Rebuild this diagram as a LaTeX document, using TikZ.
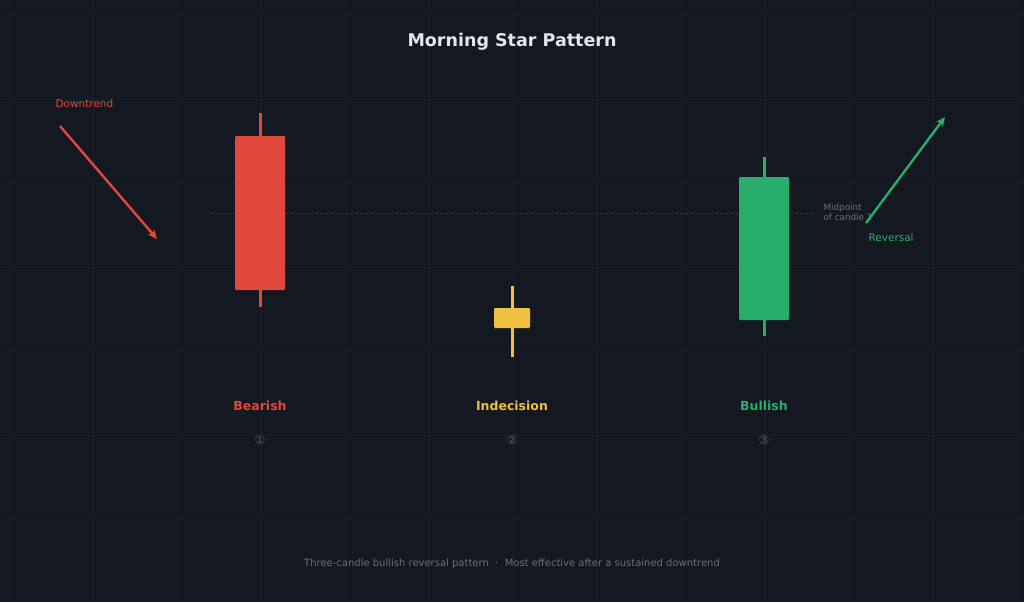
\documentclass[tikz,border=0pt]{standalone}
\usepackage{fontspec}
\setmainfont{DejaVu Sans}
\usepackage{tikz}
\usetikzlibrary{arrows.meta,positioning,calc}
\usepackage{xcolor}

\definecolor{bgdark}{RGB}{20,24,32}
\definecolor{gridln}{RGB}{26,30,40}
\definecolor{midln}{RGB}{48,53,64}
\definecolor{bearred}{RGB}{224,72,60}
\definecolor{dojiyel}{RGB}{240,192,64}
\definecolor{bullgrn}{RGB}{39,174,106}
\definecolor{titlewh}{RGB}{226,230,238}
\definecolor{mutedgr}{RGB}{105,111,124}
\definecolor{numgr}{RGB}{85,91,104}

\tikzset{
    candlebody/.style={rounded corners=1.2pt},
    wick/.style={line width=3pt},
    trendarr/.style={-{Stealth[length=9pt,width=8pt,inset=2pt]}, line width=2.4pt},
    candlelbl/.style={font=\bfseries\fontsize{12.5}{15}\selectfont},
    numlbl/.style={font=\fontsize{12}{14}\selectfont, text=numgr},
}

\begin{document}
\begin{tikzpicture}[x=1pt, y=-1pt]
    % Background
    \fill[bgdark] (0,0) rectangle (1024,602);
    \useasboundingbox (0,0) rectangle (1024,602);
    \foreach \gx in {9,93,...,1017} {
        \draw[gridln, line width=0.8pt] (\gx,0) -- (\gx,602);
    }
    \foreach \gy in {15,99,...,600} {
        \draw[gridln, line width=0.8pt] (0,\gy) -- (1024,\gy);
    }

    \node[font=\bfseries\fontsize{17.5}{21}\selectfont, text=titlewh] (title) at (512,42) {Morning Star Pattern};

    % Midpoint of candle 1
    \coordinate (midL) at (210,213);
    \coordinate (midR) at (815,213);
    \draw[midln, line width=1pt, dash pattern=on 3pt off 2pt] (midL) -- (midR);
    \node[font=\fontsize{8.8}{10.5}\selectfont, text=mutedgr, align=left, anchor=west] (midtxt) at (820,212) {Midpoint\\of candle 1};

    % Candle 1 (bearish)
    \draw[wick, bearred] (260,113) -- (260,307);
    \fill[bearred, candlebody] (235,136) rectangle (285,290);
    % Candle 2 (indecision)
    \draw[wick, dojiyel] (512,286) -- (512,357);
    \fill[dojiyel, candlebody] (494,308) rectangle (530,328);
    % Candle 3 (bullish)
    \draw[wick, bullgrn] (764,157) -- (764,336);
    \fill[bullgrn, candlebody] (739,177) rectangle (789,320);

    % Trend arrows
    \node[font=\fontsize{10.5}{12}\selectfont, text=bearred, anchor=west] (downlbl) at (52,104) {Downtrend};
    \coordinate (downA) at (60,126);
    \coordinate (downB) at (157,239);
    \draw[trendarr, bearred] (downA) -- (downB);

    \node[font=\fontsize{10.5}{12}\selectfont, text=bullgrn, anchor=west] (revlbl) at (865,238) {Reversal};
    \coordinate (revA) at (866,223);
    \coordinate (revB) at (945,117);
    \draw[trendarr, bullgrn] (revA) -- (revB);

    % Labels under candles
    \node[candlelbl, text=bearred] (lblA) at (260,406) {Bearish};
    \node[candlelbl, text=dojiyel] (lblB) at (512,406) {Indecision};
    \node[candlelbl, text=bullgrn] (lblC) at (764,406) {Bullish};
    \node[numlbl] (numA) at (260,440) {①};
    \node[numlbl] (numB) at (512,440) {②};
    \node[numlbl] (numC) at (764,440) {③};

    \node[font=\fontsize{10}{12}\selectfont, text=mutedgr] (foot) at (512,564) {Three-candle bullish reversal pattern\ \ ·\ \ Most effective after a sustained downtrend};
\end{tikzpicture}
\end{document}
